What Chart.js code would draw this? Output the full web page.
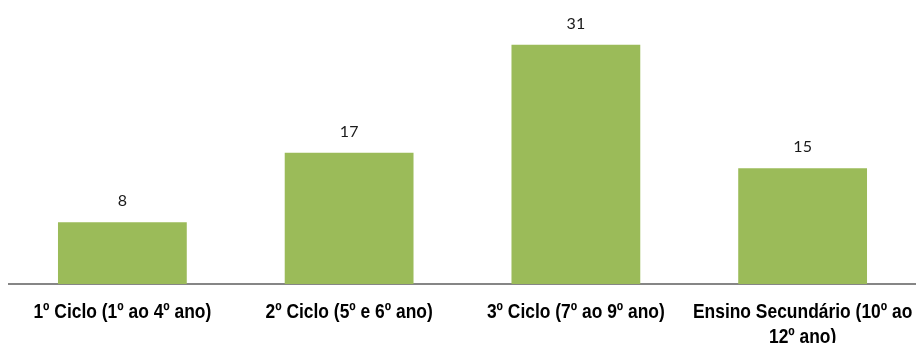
<!DOCTYPE html>
<html>
<head>
<meta charset="utf-8">
<script src="https://cdn.jsdelivr.net/npm/chart.js@4.4.1/dist/chart.umd.min.js"></script>
<style>
  html, body { margin: 0; padding: 0; background: #fff; }
  #wrap { width: 916px; height: 343px; position: relative; }
</style>
</head>
<body>
<div id="wrap"><canvas id="chart"></canvas></div>
<script>
// Chart data
const categories = [
    '1º Ciclo (1º ao 4º ano)',
    '2º Ciclo (5º e 6º ano)',
    '3º Ciclo (7º ao 9º ano)',
    ['Ensino Secundário (10º ao', '12º ano)']
];
const values = [8, 17, 31, 15];
const yMax = 35;

// Draw value labels above each bar
const valueLabels = {
    id: 'valueLabels',
    afterDatasetsDraw(chart) {
        const ctx = chart.ctx;
        const meta = chart.getDatasetMeta(0);
        ctx.save();
        ctx.font = '16px Lato, "Open Sans", sans-serif';
        ctx.fillStyle = '#1a1a1a';
        ctx.textAlign = 'center';
        ctx.textBaseline = 'bottom';
        meta.data.forEach((bar, i) => {
            ctx.fillText(values[i], bar.x, bar.y - 13);
        });
        ctx.restore();
    }
};

// Category labels in a condensed bold face (Arial Narrow look)
const narrowLabels = {
    id: 'narrowLabels',
    afterDraw(chart) {
        const ctx = chart.ctx;
        const xScale = chart.scales.x;
        const squeeze = 0.85;
        ctx.save();
        ctx.font = 'bold 20.5px "Liberation Sans", Arial, sans-serif';
        ctx.fillStyle = '#000';
        ctx.textAlign = 'center';
        ctx.textBaseline = 'middle';
        categories.forEach((label, i) => {
            const lines = Array.isArray(label) ? label : [label];
            const x = xScale.getPixelForTick(i);
            lines.forEach((line, j) => {
                ctx.save();
                ctx.translate(x, xScale.top + 28 + j * 25);
                ctx.scale(squeeze, 1);
                ctx.fillText(line, 0, 0);
                ctx.restore();
            });
        });
        ctx.restore();
    }
};

new Chart(document.getElementById('chart'), {
    type: 'bar',
    data: {
        labels: categories,
        datasets: [{
            data: values,
            backgroundColor: '#9BBB59',
            borderWidth: 0,
            categoryPercentage: 1,
            barPercentage: 0.568
        }]
    },
    options: {
        responsive: true,
        maintainAspectRatio: false,
        animation: false,
        layout: {
            padding: { left: 9, right: 0, top: 14, bottom: 0 }
        },
        plugins: {
            legend: { display: false },
            tooltip: { enabled: false }
        },
        scales: {
            x: {
                grid: { display: false },
                border: { display: true, color: '#868686', width: 2 },
                ticks: { display: false },
                afterFit(scale) {
                    scale.height = 59;
                }
            },
            y: {
                display: false,
                min: 0,
                max: yMax
            }
        }
    },
    plugins: [valueLabels, narrowLabels]
});
</script>
</body>
</html>
